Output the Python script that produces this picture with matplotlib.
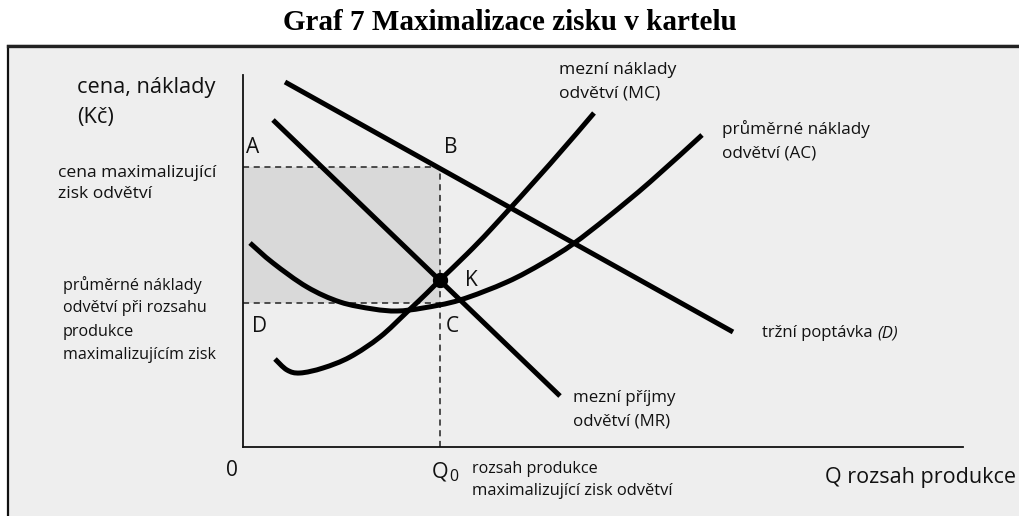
import matplotlib
matplotlib.use("Agg")
import matplotlib.pyplot as plt
from matplotlib.patches import Rectangle, PathPatch
from matplotlib.lines import Line2D
from matplotlib.path import Path

W, H = 1019, 516

# ---- data (quantity Q, price P in chart units) ----
demand_q = [4.2, 49.0]
demand_p = [36.5, 11.5]

mr_q = [3.0, 31.7]
mr_p = [32.7, 5.1]

mc_q = [3.2, 4.4, 5.7, 8.0, 10.7, 13.7, 16.4, 18.4, 19.7, 22.4, 25.0, 30.7, 35.1]
mc_p = [8.8, 7.7, 7.4, 7.9, 9.0, 11.0, 13.5, 15.4, 16.7, 19.3, 22.0, 28.3, 33.4]

ac_q = [0.7, 3.0, 6.4, 9.7, 13.0, 15.4, 18.0, 21.7, 26.4, 30.0, 33.0, 36.5, 40.7, 45.9]
ac_p = [20.4, 18.4, 16.0, 14.5, 13.8, 13.6, 13.9, 14.7, 16.5, 18.4, 20.3, 23.0, 26.5, 31.2]

q0 = 19.7          # profit-maximising output (K)
p_k = 16.7         # MC = MR
p_max = 28.0       # price on demand at Q0
ac_q0 = 14.4       # average cost at Q0

fig = plt.figure(figsize=(W / 100, H / 100), dpi=100)
fig.patch.set_facecolor("white")

def fx(x):
    return x / W

def fy(y):
    return 1 - y / H

# frame
fig.patches.append(Rectangle((fx(8), -0.02), 1.2, fy(46) + 0.02, transform=fig.transFigure,
                             facecolor="#eeeeee", edgecolor="#111111", lw=1.6, zorder=-10))
fig.lines.append(Line2D([fx(8), 1.0], [fy(46), fy(46)], transform=fig.transFigure,
                        color="#222222", lw=2.4, zorder=-9))

fig.text(0.5, fy(23), "Graf 7 Maximalizace zisku v kartelu", ha="center", va="center",
         fontsize=21, fontweight="bold", family="Liberation Serif")

ax = fig.add_axes([fx(243), fy(447), fx(963) - fx(243), fy(75) - fy(447)])
ax.set_zorder(5)
ax.set_facecolor("none")
ax.set_xlim(0, 72.0)
ax.set_ylim(0, 37.2)
for s in ["top", "right"]:
    ax.spines[s].set_visible(False)
for s in ["left", "bottom"]:
    ax.spines[s].set_linewidth(1.3)
    ax.spines[s].set_color("#111111")
ax.set_xticks([])
ax.set_yticks([])

# shaded profit area
ax.add_patch(Rectangle((0, ac_q0), q0, p_max - ac_q0, facecolor="#d9d9d9", edgecolor="none", zorder=1))

dash = dict(color="#222222", lw=1.1, linestyle=(0, (4, 3)), zorder=2)
ax.plot([0, q0], [p_max, p_max], **dash)
ax.plot([0, q0], [ac_q0, ac_q0], **dash)
ax.plot([q0, q0], [0, p_max], **dash)


def smooth_curve(qs, ps, **kw):
    """Draw a smooth Bezier path through the read points (Catmull-Rom style handles)."""
    pts = list(zip(qs, ps))
    verts = [pts[0]]
    codes = [Path.MOVETO]
    n = len(pts)
    for i in range(n - 1):
        p0 = pts[i - 1] if i > 0 else pts[i]
        p1 = pts[i]
        p2 = pts[i + 1]
        p3 = pts[i + 2] if i + 2 < n else pts[i + 1]
        c1 = (p1[0] + (p2[0] - p0[0]) / 6.0, p1[1] + (p2[1] - p0[1]) / 6.0)
        c2 = (p2[0] - (p3[0] - p1[0]) / 6.0, p2[1] - (p3[1] - p1[1]) / 6.0)
        verts += [c1, c2, p2]
        codes += [Path.CURVE4] * 3
    ax.add_patch(PathPatch(Path(verts, codes), facecolor="none", **kw))


curve = dict(color="black", lw=3.6, solid_capstyle="butt", solid_joinstyle="round", zorder=3)
ax.plot(demand_q, demand_p, **curve)
ax.plot(mr_q, mr_p, **curve)
pstyle = dict(edgecolor="black", lw=3.6, capstyle="butt", joinstyle="round", zorder=3)
smooth_curve(mc_q, mc_p, **pstyle)
smooth_curve(ac_q, ac_p, **pstyle)
ax.plot([q0], [p_k], "o", color="black", markersize=10, zorder=4)

FONT = "Open Sans"

def t(x, y, s, size, **kw):
    fig.text(fx(x), fy(y), s, ha=kw.pop("ha", "left"), va=kw.pop("va", "center"),
             fontsize=size, family=FONT, color="#111111", zorder=10, **kw)

t(77, 87, "cena, náklady", 15.7)
t(77, 118, "(Kč)", 15.7)
t(58, 173, "cena maximalizující", 12.6)
t(58, 194, "zisk odvětví", 12.6)
for i, line in enumerate(["průměrné náklady", "odvětví při rozsahu", "produkce",
                          "maximalizujícím zisk"]):
    t(63, 285 + i * 23.3, line, 11.6)

t(246, 147, "A", 15)
t(444, 147, "B", 15)
t(252, 326, "D", 15)
t(446, 326, "C", 15)
t(465, 281, "K", 15)
t(226, 471, "0", 15)
t(432, 472, "Q", 15.5)
t(449, 477, "0", 11.5)
t(472, 469, "rozsah produkce", 11.6)
t(472, 491, "maximalizující zisk odvětví", 11.9)
t(825, 477, "Q rozsah produkce", 15.5)

t(559, 70, "mezní náklady", 12.6)
t(559, 94, "odvětví (MC)", 12.6)
t(722, 129, "průměrné náklady", 12.3)
t(722, 153, "odvětví (AC)", 12.3)
t(573, 398, "mezní příjmy", 12.2)
t(573, 421, "odvětví (MR)", 12.2)
t(762, 333, "tržní poptávka ", 12)
t(877, 333, "(D)", 12, style="italic")

fig.savefig("out.png", dpi=100)
